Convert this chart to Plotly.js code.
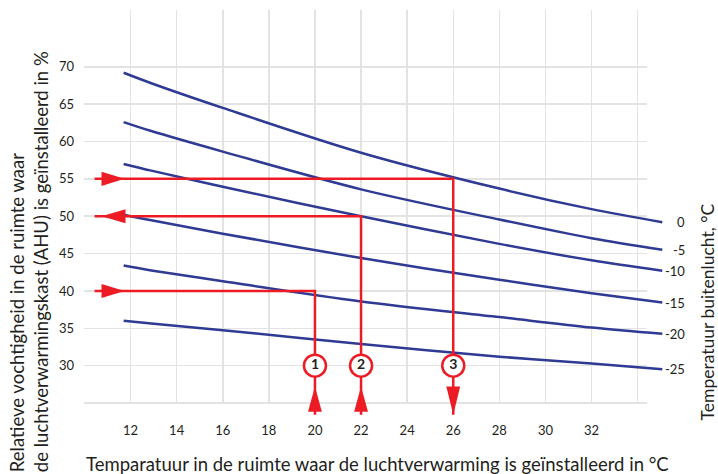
<!DOCTYPE html>
<html>
<head>
<meta charset="utf-8">
<script src="https://cdn.plot.ly/plotly-3.0.1.min.js"></script>
<style>html,body{margin:0;padding:0;background:#fff;}#chart{width:718px;height:474px;}</style>
</head>
<body>
<div id="chart"></div>
<script>
// ---- data ----
const roomTemp = [11.7, 12.9, 16, 22, 28, 32, 35.07];           // x sample points of the curves
const outdoorLabels = ['0', '-5', '-10', '-15', '-20', '-25'];   // outdoor air temperature, °C
const rhOut0   = [69.2, 67.8, 64.5, 58.5, 53.7, 50.95, 49.2];
const rhOutM5  = [62.6, 61.4, 58.65, 53.6, 49.56, 47.06, 45.5];
const rhOutM10 = [57.0, 56.1, 53.94, 50.0, 46.3, 44.1, 42.7];
const rhOutM15 = [50.2, 49.45, 47.67, 44.4, 41.5, 39.7, 38.45];
const rhOutM20 = [43.4, 42.75, 41.3, 38.6, 36.5, 35.1, 34.26];
const rhOutM25 = [36.0, 35.65, 34.75, 32.9, 31.2, 30.3, 29.53];

// worked examples (red)
const exampleLabels = ['1', '2', '3'];
const exampleTemp = [20, 22, 26];
const exampleRH = [40, 50, 55];
const exampleHDir = ['right', 'left', 'right'];
const exampleVDir = ['up', 'up', 'down'];

const xTickVals = [10, 12, 14, 16, 18, 20, 22, 24, 26, 28, 30, 32, 34];
const xTickText = ['', '12', '14', '16', '18', '20', '22', '24', '26', '28', '30', '32', ''];
const yTickVals = [25, 30, 35, 40, 45, 50, 55, 60, 65, 70];
const yTickText = ['', '30', '35', '40', '45', '50', '55', '60', '65', '70'];

// ---- styles ----
const BLUE = '#2e3a94';
const RED = '#ed1c24';
const TXT = '#231f20';
const FONT = 'Lato, "Open Sans", sans-serif';
const X0 = 9.98, X1 = 35.1, XGRID_END = 34.4;
const Y0 = 23.4, Y1 = 77.6, YGRID_END = 24.86;
const LINE_START = 10.44, CIRCLE_Y = 30, ARROW_END = 23.44;

const curves = [rhOut0, rhOutM5, rhOutM10, rhOutM15, rhOutM20, rhOutM25];
const traces = [];
const annotations = [];
const shapes = [];

// cover rectangles to stop the grid where the reference grid stops
shapes.push({type:'rect', xref:'x', yref:'y', x0:XGRID_END, x1:X1+0.2, y0:Y0-0.5, y1:Y1+0.5, fillcolor:'#fff', line:{width:0}, layer:'between'});
shapes.push({type:'rect', xref:'x', yref:'y', x0:X0-0.5, x1:X1+0.2, y0:Y0-0.5, y1:YGRID_END, fillcolor:'#fff', line:{width:0}, layer:'between'});

curves.forEach((ys, i) => {
  traces.push({x: roomTemp, y: ys, type:'scatter', mode:'lines',
    line:{color:BLUE, width:2.5, shape:'spline', smoothing:0.9}, hoverinfo:'skip', showlegend:false});
  annotations.push({x: roomTemp[roomTemp.length-1], y: ys[ys.length-1], xref:'x', yref:'y',
    text: outdoorLabels[i], showarrow:false, xanchor:'right', yanchor:'middle', xshift:25,
    font:{family:FONT, size:13, color:TXT}});
});

exampleTemp.forEach((t, i) => {
  const rh = exampleRH[i];
  traces.push({x:[LINE_START, t, t], y:[rh, rh, ARROW_END], type:'scatter', mode:'lines',
    line:{color:RED, width:2.5}, hoverinfo:'skip', showlegend:false});
  // horizontal arrow head
  let p;
  if (exampleHDir[i] === 'right') {
    p = `M10.74,${rh-0.94} L11.74,${rh} L10.74,${rh+0.94} Z`;
  } else {
    p = `M11.78,${rh-0.94} L10.74,${rh} L11.78,${rh+0.94} Z`;
  }
  shapes.push({type:'path', xref:'x', yref:'y', path:p, fillcolor:RED, line:{width:0}, layer:'above'});
  // vertical arrow head
  if (exampleVDir[i] === 'up') {
    p = `M${t-0.3},23.85 L${t},27.2 L${t+0.3},23.85 Z`;
  } else {
    p = `M${t-0.3},27.2 L${t},${ARROW_END} L${t+0.3},27.2 Z`;
  }
  shapes.push({type:'path', xref:'x', yref:'y', path:p, fillcolor:RED, line:{width:0}, layer:'above'});
});

traces.push({x: exampleTemp, y: exampleTemp.map(() => CIRCLE_Y), type:'scatter', mode:'markers+text',
  text: exampleLabels.map(s => '<b>' + s + '</b>'), textposition:'middle center',
  textfont:{family:FONT, size:14, color:TXT},
  marker:{symbol:'circle', size:22, color:'#fff', line:{color:RED, width:2.5}},
  hoverinfo:'skip', showlegend:false, cliponaxis:false});

annotations.push({xref:'paper', yref:'paper', x:0.5064, y:-0.121, xanchor:'center', yanchor:'middle',
  text:'Temparatuur in de ruimte waar de luchtverwarming is geïnstalleerd in °C', showarrow:false,
  font:{family:FONT, size:18.5, color:TXT}});
annotations.push({xref:'paper', yref:'paper', x:-0.139, y:-0.146, xanchor:'left', yanchor:'bottom',
  textangle:-90, align:'left',
  text:'Relatieve vochtigheid in de ruimte waar<br>de luchtverwarmingskast (AHU) is geïnstalleerd in %',
  showarrow:false, font:{family:FONT, size:18.5, color:TXT}});
annotations.push({xref:'paper', yref:'paper', x:1.0765, y:0.254, xanchor:'center', yanchor:'middle',
  textangle:-90, text:'Temperatuur buitenlucht, °C', showarrow:false,
  font:{family:FONT, size:17.5, color:TXT}});

const layout = {
  width:718, height:474,
  margin:{l:84, r:55.4, t:10, b:59},
  paper_bgcolor:'#fff', plot_bgcolor:'#fff',
  xaxis:{range:[X0, X1], tickvals:xTickVals, ticktext:xTickText, showgrid:true, gridcolor:'#e3e3e3', gridwidth:1.5,
    zeroline:false, showline:false, ticks:'', ticklabelstandoff:6, tickfont:{family:FONT, size:13, color:TXT}},
  yaxis:{range:[Y0, Y1], tickvals:yTickVals, ticktext:yTickText, showgrid:true, gridcolor:'#e3e3e3', gridwidth:1.5,
    zeroline:false, showline:false, ticks:'', ticklabelstandoff:9, tickfont:{family:FONT, size:13, color:TXT}},
  shapes: shapes,
  annotations: annotations,
  showlegend:false
};

Plotly.newPlot('chart', traces, layout, {staticPlot:true, displayModeBar:false});
</script>
</body>
</html>
